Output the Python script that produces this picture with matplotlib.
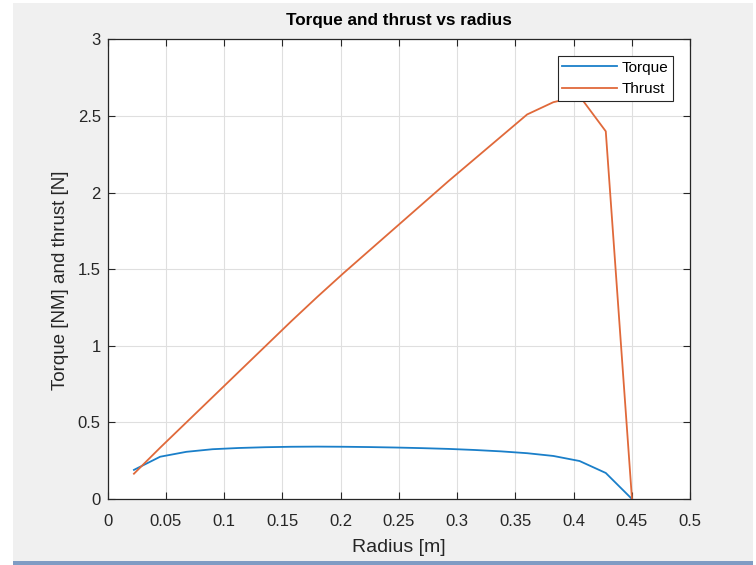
import numpy as np
import matplotlib
matplotlib.use("Agg")
from matplotlib import pyplot as plt
from matplotlib.patches import Rectangle

# Blade element stations along the radius
radius = [0.0225, 0.045, 0.0675, 0.09, 0.1125, 0.135, 0.1575, 0.18, 0.2025, 0.225,
          0.2475, 0.27, 0.2925, 0.315, 0.3375, 0.36, 0.3825, 0.405, 0.4275, 0.45]
torque = [0.190, 0.276, 0.308, 0.325, 0.333, 0.338, 0.341, 0.342, 0.341, 0.339,
          0.336, 0.332, 0.327, 0.320, 0.311, 0.299, 0.281, 0.248, 0.170, 0.0]
thrust = [0.165, 0.335, 0.500, 0.665, 0.830, 0.995, 1.160, 1.320, 1.475, 1.625,
          1.775, 1.925, 2.075, 2.220, 2.365, 2.510, 2.590, 2.630, 2.400, 0.0]

xticks = np.arange(0, 0.51, 0.05)
yticks = np.arange(0, 3.01, 0.5)

plt.rcParams['font.family'] = ['Liberation Sans', 'DejaVu Sans']

fig = plt.figure(figsize=(7.56, 5.65), dpi=100, facecolor='white')
# grey window area and blue strip at the bottom
fig.patches.append(Rectangle((13 / 756, 4 / 565), 740 / 756, 558 / 565,
                             transform=fig.transFigure, facecolor='#F0F0F0',
                             edgecolor='none', zorder=-2))
fig.patches.append(Rectangle((13 / 756, 0), 740 / 756, 4 / 565,
                             transform=fig.transFigure, facecolor='#7F9CC4',
                             edgecolor='none', zorder=-1))

ax = fig.add_axes([0.1425, 0.1168, 0.7705, 0.8135])
ax.set_facecolor('white')
ax.plot(radius, torque, color='#1A7FC9', lw=1.3, label='Torque')
ax.plot(radius, thrust, color='#E0693A', lw=1.3, label='Thrust')

ax.set_xlim(0, 0.5)
ax.set_ylim(0, 3)
ax.set_xticks(xticks)
ax.set_xticklabels(['0', '0.05', '0.1', '0.15', '0.2', '0.25', '0.3', '0.35', '0.4', '0.45', '0.5'])
ax.set_yticks(yticks)
ax.set_yticklabels(['0', '0.5', '1', '1.5', '2', '2.5', '3'])
ax.grid(True, color='#DFDFDF', lw=0.8)
ax.set_axisbelow(True)
ax.tick_params(direction='in', length=5, width=0.8, colors='#262626',
               labelsize=12, top=True, right=True)
ax.tick_params(axis='x', pad=11)
ax.tick_params(axis='y', pad=5)
for s in ax.spines.values():
    s.set_color('#262626')
    s.set_linewidth(0.9)

ax.set_title('Torque and thrust vs radius', fontsize=12.3, fontweight='bold', pad=10)
ax.set_xlabel('Radius [m]', fontsize=14, color='#262626', labelpad=7)
ax.set_ylabel('Torque [NM] and thrust [N]', fontsize=13.5, color='#262626')
ax.yaxis.set_label_coords(-0.066, 0.476)

leg = ax.legend(loc='upper right', bbox_to_anchor=(0.971, 0.964), fontsize=11,
                frameon=True, fancybox=False, framealpha=1, borderpad=0.3,
                handlelength=3.6, handletextpad=0.3, labelspacing=0.5,
                borderaxespad=0)
leg.get_frame().set_edgecolor('#262626')
leg.get_frame().set_linewidth(0.8)
leg.set_zorder(5)

fig.savefig('out.png', dpi=100, facecolor=fig.get_facecolor())
